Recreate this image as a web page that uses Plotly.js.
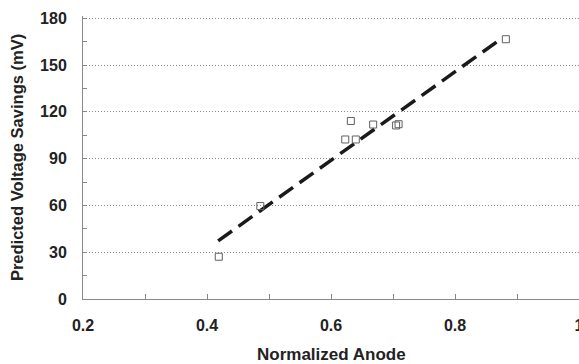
<!DOCTYPE html>
<html>
<head>
<meta charset="utf-8">
<script src="https://cdn.plot.ly/plotly-3.0.1.min.js"></script>
<style>html,body{margin:0;padding:0;background:#fff;}#chart{width:579px;height:364px;}</style>
</head>
<body>
<div id="chart"></div>
<script>
// Data
const anodeX = [0.419, 0.486, 0.623, 0.632, 0.640, 0.668, 0.705, 0.709, 0.882];
const savingsY = [27.1, 59.6, 102.3, 114.2, 102.3, 111.9, 111.3, 112.1, 166.6];
const fitX = [0.418, 0.876];
const fitY = [37.3, 167.3];
const xTicks = [0.2, 0.4, 0.6, 0.8, 1];
const yTicks = [0, 30, 60, 90, 120, 150, 180];
const xTitle = 'Normalized Anode';
const yTitle = 'Predicted Voltage Savings (mV)';

const fontFam = 'Arial, "Liberation Sans", Helvetica, sans-serif';

const traces = [
  {
    x: fitX, y: fitY, type: 'scatter', mode: 'lines',
    line: {color: '#1a1a1a', width: 3.5, dash: '17px,8px'},
    hoverinfo: 'skip', showlegend: false
  },
  {
    x: anodeX, y: savingsY, type: 'scatter', mode: 'markers',
    marker: {symbol: 'square-open', size: 7, color: '#606060', line: {width: 1, color: '#606060'}},
    showlegend: false
  }
];

const layout = {
  width: 579, height: 364,
  margin: {l: 83, r: 0, t: 15.6, b: 65},
  paper_bgcolor: '#fff', plot_bgcolor: '#fff',
  font: {family: fontFam, color: '#222'},
  xaxis: {
    range: [0.2, 1.0],
    tickvals: xTicks,
    ticktext: xTicks.map(v => '<b>' + v + '</b>'),
    ticks: 'inside', ticklen: 5, tickcolor: '#888', tickwidth: 1,
    minor: {dtick: 0.1, tick0: 0.2, ticks: 'inside', ticklen: 5, tickcolor: '#888', showgrid: false},
    showgrid: false, zeroline: false,
    showline: true, linecolor: '#888', linewidth: 1,
    tickfont: {size: 16, family: fontFam, color: '#222'},
    ticklabeloverflow: 'allow',
    ticklabelstandoff: 12
  },
  yaxis: {
    range: [0, 181.5],
    tickvals: yTicks,
    ticktext: yTicks.map(v => '<b>' + v + '</b>'),
    ticks: '',
    minor: {dtick: 15, tick0: 0, ticks: 'inside', ticklen: 4, tickcolor: '#888', showgrid: false},
    showgrid: true, gridcolor: '#888', griddash: '1px,2px', gridwidth: 1,
    zeroline: false,
    showline: true, linecolor: '#888', linewidth: 1,
    tickfont: {size: 16, family: fontFam, color: '#222'},
    ticklabelstandoff: 12,
    title: {text: '<b>' + yTitle + '</b>', font: {size: 16.5, family: fontFam, color: '#222'}, standoff: 12}
  },
  annotations: [{
    text: '<b>' + xTitle + '</b>', xref: 'paper', yref: 'paper', x: 0.5, y: 0,
    xanchor: 'center', yanchor: 'middle', yshift: -55.5, showarrow: false,
    font: {size: 17, family: fontFam, color: '#222'}
  }]
};

Plotly.newPlot('chart', traces, layout, {displayModeBar: false, staticPlot: true});
</script>
</body>
</html>
